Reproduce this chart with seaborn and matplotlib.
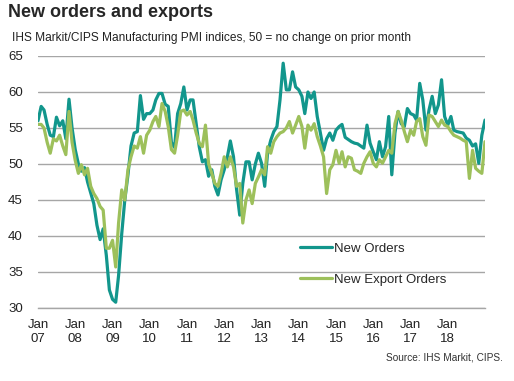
import matplotlib
matplotlib.use("Agg")
import matplotlib.pyplot as plt
import numpy as np
import pandas as pd
import seaborn as sns

# Monthly PMI readings, Jan 2007 - Jan 2019
new_orders = [
    56.0, 58.0, 57.5, 55.5, 54.0, 53.8, 56.5, 55.3, 56.0, 53.5, 59.0, 55.0,
    52.0, 50.0, 49.0, 49.5, 47.5, 46.0, 44.5, 41.5, 39.5, 41.0, 37.3, 32.5,
    31.2, 30.8, 34.5, 40.3, 45.0, 48.5, 52.5, 54.3, 54.5, 59.5, 56.2, 57.0,
    57.0, 57.5, 58.9, 59.8, 59.8, 58.3, 58.0, 53.0, 52.3, 57.0, 58.4, 60.7,
    57.5, 58.9, 58.9, 55.6, 52.4, 50.3, 50.6, 48.3, 49.2, 46.9, 45.7, 47.8,
    49.2, 51.0, 53.2, 51.0, 46.5, 42.9, 47.3, 50.3, 50.3, 47.8, 50.0, 51.5,
    50.1, 46.9, 51.5, 53.3, 54.5, 55.2, 58.9, 64.0, 60.3, 60.3, 62.8, 60.7,
    60.3, 59.4, 57.0, 60.0, 59.1, 60.0, 56.6, 54.3, 51.9, 53.5, 54.3, 53.3,
    54.7, 55.2, 55.5, 53.7, 53.4, 53.1, 52.9, 52.8, 52.5, 52.2, 55.4, 52.9,
    51.7, 50.6, 53.1, 51.0, 52.4, 56.6, 48.5, 54.3, 57.3, 55.6, 55.2, 57.7,
    57.0, 56.8, 56.1, 61.2, 58.9, 54.7, 57.5, 59.4, 57.0, 58.2, 61.7, 56.6,
    55.4, 56.6, 54.7, 54.5, 54.4, 54.3, 53.6, 53.3, 52.5, 52.8, 50.1, 54.0,
    56.1,
]
export_orders = [
    55.5, 55.5, 55.0, 53.0, 51.5, 53.5, 53.2, 54.0, 52.5, 51.3, 57.3, 53.0,
    50.5, 48.7, 49.9, 48.5, 49.4, 46.9, 45.9, 45.2, 44.1, 43.6, 38.3, 38.3,
    39.4, 35.7, 41.8, 46.4, 45.0, 49.2, 51.0, 52.5, 52.2, 53.8, 51.5, 54.0,
    54.7, 55.9, 56.6, 55.2, 58.4, 57.3, 55.2, 52.0, 51.5, 54.0, 57.3, 57.5,
    56.8, 57.3, 56.1, 54.3, 52.9, 52.4, 55.4, 50.0, 48.7, 47.3, 46.9, 48.7,
    51.0, 49.6, 51.0, 49.6, 46.9, 47.3, 41.8, 45.0, 46.4, 44.5, 47.3, 48.2,
    49.2, 48.5, 52.4, 51.5, 53.1, 53.8, 54.3, 54.5, 55.0, 55.9, 54.3, 55.4,
    56.6, 55.2, 52.2, 55.4, 54.7, 55.6, 53.8, 52.5, 51.0, 45.9, 49.2, 49.9,
    51.9, 50.1, 51.7, 49.6, 51.0, 50.8, 49.2, 49.0, 48.7, 50.1, 51.0, 51.7,
    50.1, 49.6, 50.6, 50.1, 51.0, 51.9, 51.5, 55.6, 57.3, 56.1, 54.5, 53.1,
    54.7, 54.0, 55.9, 56.3, 53.8, 52.6, 56.8, 56.6, 55.9, 55.2, 56.1, 55.4,
    55.2, 54.5, 54.0, 53.8, 53.6, 53.3, 53.1, 48.0, 51.9, 49.4, 49.0, 48.7,
    53.1,
]
dates = pd.date_range("2007-01-01", periods=len(new_orders), freq="MS")
year_labels = [f"Jan\n{y % 100:02d}" for y in range(2007, 2019)]
y_ticks = [30, 35, 40, 45, 50, 55, 60, 65]

sns.set_style("white")
plt.rcParams["font.family"] = ["Liberation Sans", "DejaVu Sans"]

teal = "#12968C"
green = "#9DC05B"
grid_col = "#A6A6A6"

fig = plt.figure(figsize=(5.14, 3.81), dpi=100)
ax = fig.add_axes([38 / 514, 1 - 308 / 381, (485 - 38) / 514, (308 - 56) / 381])

sns.lineplot(x=dates, y=new_orders, color=teal, lw=2.3, label="New Orders", ax=ax)
sns.lineplot(x=dates, y=export_orders, color=green, lw=2.3, label="New Export Orders", ax=ax)

ax.set_ylim(30, 65)
ax.set_yticks(y_ticks)
ax.set_xlim(pd.Timestamp("2007-01-01"), pd.Timestamp("2019-01-01"))
ax.set_xticks(pd.date_range("2007-01-01", "2018-01-01", freq="YS"))
ax.set_xticklabels(year_labels)
ax.set_xticks(pd.date_range("2007-01-01", "2019-01-01", freq="2YS"), minor=True)
ax.tick_params(axis="x", which="major", length=0, pad=8, labelsize=9.5, colors="#222222")
ax.tick_params(axis="x", which="minor", length=3, width=1, color=grid_col, direction="out")
ax.tick_params(axis="y", length=0, pad=11, labelsize=9.5, colors="#222222")
ax.set_xlabel("")
ax.set_ylabel("")

ax.grid(axis="y", color=grid_col, lw=1.0)
ax.grid(axis="x", visible=False)
ax.set_axisbelow(True)
for side in ["top", "right", "left"]:
    ax.spines[side].set_visible(False)
ax.spines["bottom"].set_color(grid_col)
ax.spines["bottom"].set_linewidth(1.0)

ax.legend(loc="upper left", bbox_to_anchor=(0.586, 0.26), frameon=False,
          fontsize=9.5, handlelength=2.4, handletextpad=0.15,
          labelspacing=1.45, borderpad=0, borderaxespad=0)

fig.text(8 / 514, 1 - 4 / 381, "New orders and exports", fontsize=13,
         fontweight="bold", va="top", ha="left")
fig.text(12 / 514, 1 - 32 / 381,
         "IHS Markit/CIPS Manufacturing PMI indices, 50 = no change on prior month",
         fontsize=8.6, va="top", ha="left", color="#222222")
fig.text(503 / 514, 1 - 352 / 381, "Source: IHS Markit, CIPS.", fontsize=7.3,
         va="top", ha="right", color="#333333")

fig.savefig("out.png", dpi=100)
